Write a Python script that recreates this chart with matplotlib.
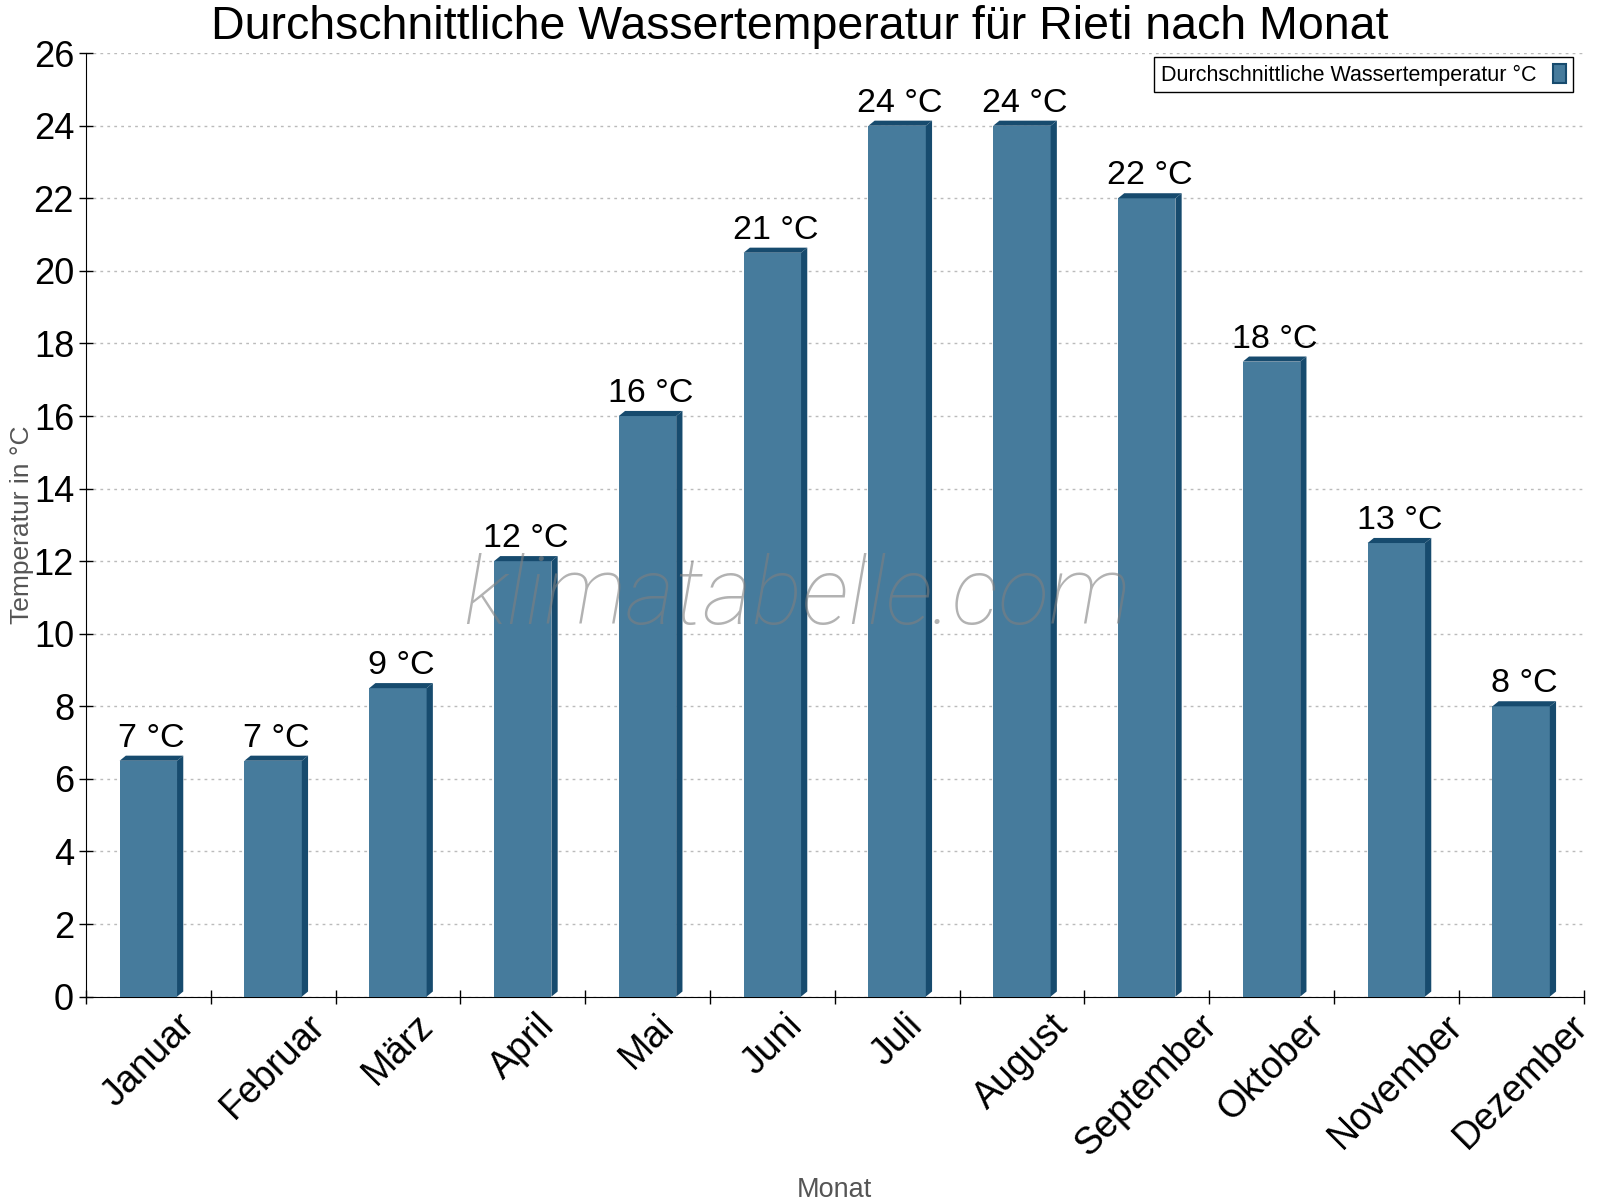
import numpy as np
import matplotlib

matplotlib.use("Agg")
import matplotlib.pyplot as plt
from matplotlib.patches import Polygon, Patch

# Data
months = [
    "Januar", "Februar", "März", "April", "Mai", "Juni",
    "Juli", "August", "September", "Oktober", "November", "Dezember",
]
water_temp = [6.5, 6.5, 8.5, 12, 16, 20.5, 24, 24, 22, 17.5, 12.5, 8]
temp_labels = ["7 °C", "7 °C", "9 °C", "12 °C", "16 °C", "21 °C",
               "24 °C", "24 °C", "22 °C", "18 °C", "13 °C", "8 °C"]

front_color = "#467b9c"
dark_color = "#174b6e"

plt.rcParams["font.family"] = ["Liberation Sans", "DejaVu Sans"]

fig = plt.figure(figsize=(16, 12), dpi=100)
ax = fig.add_axes([0.0537, 0.1695, 0.936, 0.7862])

x = np.arange(len(months))
width = 0.46
dx = 0.05  # depth of the fake 3D side
dy = 0.14  # depth of the fake 3D top

bars = ax.bar(x, water_temp, width=width, color=front_color, zorder=3,
              label="Durchschnittliche Wassertemperatur °C")

# fake 3D faces
for xi, v in zip(x, water_temp):
    left = xi - width / 2
    right = xi + width / 2
    side = Polygon([(right, 0), (right + dx, dy), (right + dx, v + dy), (right, v)],
                   closed=True, facecolor=dark_color, edgecolor="none", zorder=3)
    top = Polygon([(left, v), (left + dx, v + dy), (right + dx, v + dy), (right, v)],
                  closed=True, facecolor=dark_color, edgecolor="none", zorder=3)
    ax.add_patch(side)
    ax.add_patch(top)

for xi, v, lab in zip(x, water_temp, temp_labels):
    ax.text(xi + dx / 2, v + dy + 0.05, lab, ha="center", va="bottom",
            fontsize=24.5, color="black", zorder=4)

ax.set_xlim(-0.5, len(months) - 0.5)
ax.set_ylim(0, 26)
ax.set_yticks(np.arange(0, 27, 2))
ax.set_xticks(x)
ax.set_xticklabels(months, rotation=45, ha="center", fontsize=27)
ax.set_xticks(np.arange(-0.5, len(months), 1), minor=True)
ax.tick_params(axis="x", which="major", length=0, pad=8)
ax.tick_params(axis="x", which="minor", direction="inout", length=10, width=1)
ax.tick_params(axis="y", direction="inout", length=10, width=1, labelsize=26)

ax.spines["top"].set_visible(False)
ax.spines["right"].set_visible(False)

ax.grid(axis="y", linestyle=(0, (2, 3)), color="#bbbbbb", linewidth=1, zorder=0)
ax.set_axisbelow(True)

# title is centred on the whole figure
fig.text(0.5, 0.996, "Durchschnittliche Wassertemperatur für Rieti nach Monat",
         ha="center", va="top", fontsize=33.5)
ax.set_ylabel("Temperatur in °C", fontsize=19, color="#555555", va="center")
ax.yaxis.set_label_coords(-0.043, 0.5)
ax.set_xlabel("Monat", fontsize=19.5, color="#555555", labelpad=10)

handle = Patch(facecolor=front_color, edgecolor=dark_color, linewidth=1.5)
leg = ax.legend([handle], ["Durchschnittliche Wassertemperatur °C"],
                loc="upper right", fontsize=15.5, markerfirst=False,
                fancybox=False, framealpha=1, edgecolor="black",
                handlelength=0.6, handleheight=1.0, borderpad=0.3,
                handletextpad=0.8, bbox_to_anchor=(1.0, 1.007))
leg.get_frame().set_linewidth(1)

ax.text(0.475, 0.4225, "klimatabelle.com", transform=ax.transAxes,
        ha="center", va="center", fontsize=68, color="#808080", alpha=0.6,
        family=["Roboto", "DejaVu Sans"], style="italic", weight="light",
        zorder=5)

fig.savefig("out.png", dpi=100)
